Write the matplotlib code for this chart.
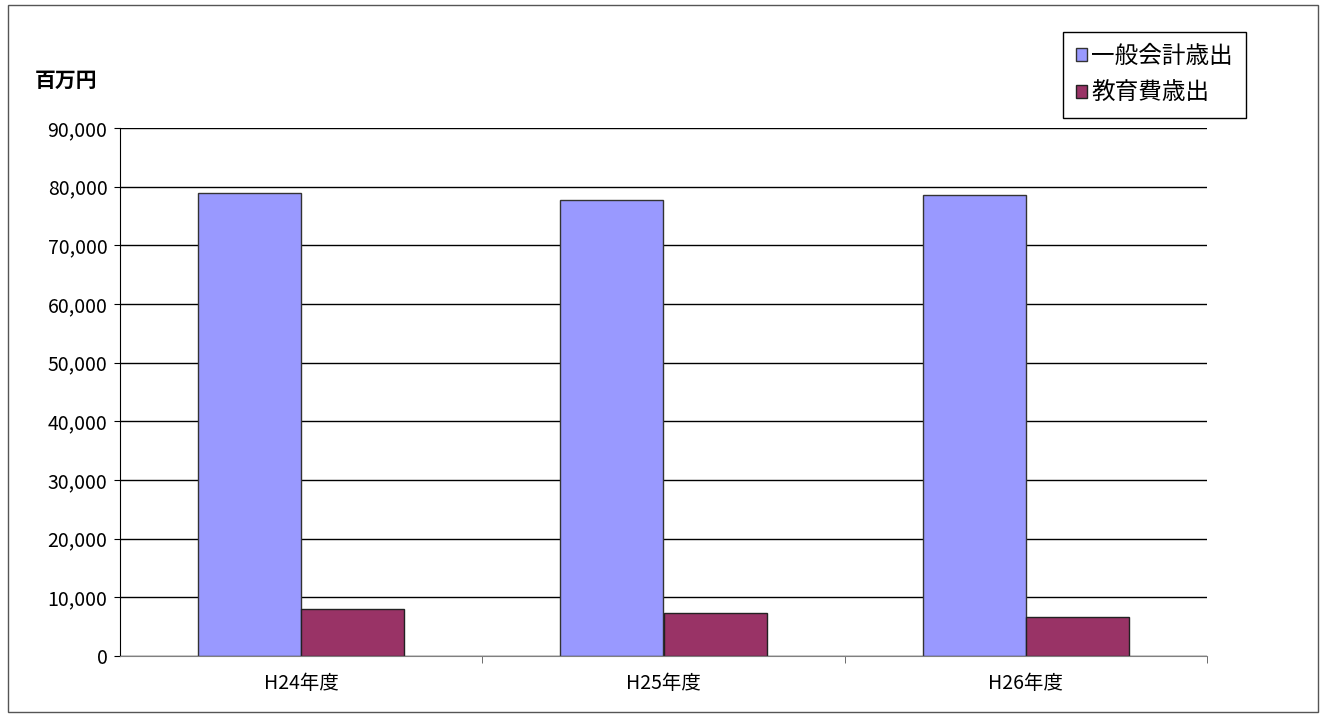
import matplotlib.pyplot as plt
import numpy as np
from matplotlib.patches import Rectangle

plt.rcParams['font.family'] = ['Noto Sans CJK JP', 'DejaVu Sans']

years = ['H24年度', 'H25年度', 'H26年度']
general = [78900, 77700, 78600]
education = [8000, 7300, 6650]
labels = ['一般会計歳出', '教育費歳出']
colors = ['#9999FF', '#993366']

fig = plt.figure(figsize=(13.2, 7.17), dpi=100)
# outer chart border
fig.patches.append(Rectangle((8 / 1320, 5 / 717), 1310 / 1320, 707 / 717, transform=fig.transFigure,
                             fill=False, edgecolor='#555555', lw=1))

ax = fig.add_axes([120 / 1320, 61 / 717, 1087 / 1320, 528 / 717])
x = np.arange(len(years))
w = 0.285
ax.bar(x - w / 2, general, w, color=colors[0], edgecolor='#333333', lw=1, label=labels[0], zorder=3)
ax.bar(x + w / 2, education, w, color=colors[1], edgecolor='#222222', lw=1, label=labels[1], zorder=3)

ax.set_xlim(-0.5, 2.5)
ax.set_ylim(0, 90000)
ax.set_yticks(np.arange(0, 90001, 10000))
ax.set_yticklabels([f'{v:,}' for v in range(0, 90001, 10000)], fontsize=14)
ax.yaxis.grid(True, color='black', lw=1, zorder=0)
ax.set_xticks(x)
ax.set_xticklabels(years, fontsize=14)
ax.tick_params(axis='x', length=0, pad=12)
ax.set_xticks([0.5, 1.5, 2.5], minor=True)
ax.tick_params(axis='x', which='minor', length=5, direction='out', color='#555555')
ax.tick_params(axis='y', length=4, color='black', pad=5)
for s in ['top', 'right']:
    ax.spines[s].set_visible(False)
ax.spines['left'].set_color('black')
ax.spines['bottom'].set_color('#808080')
ax.spines['bottom'].set_zorder(4)

fig.text(35 / 1320, 1 - 80 / 717, '百万円', fontsize=15, fontweight='bold', va='center', ha='left')

leg = fig.legend(loc='upper left', bbox_to_anchor=(1063 / 1320, 1 - 32 / 717), fontsize=17,
                 frameon=True, fancybox=False, edgecolor='black', framealpha=1,
                 handlelength=0.45, handleheight=0.45, handletextpad=0.2, labelspacing=0.6,
                 borderpad=0.55, borderaxespad=0)
leg.get_frame().set_linewidth(1)

fig.savefig('out.png', dpi=100)
